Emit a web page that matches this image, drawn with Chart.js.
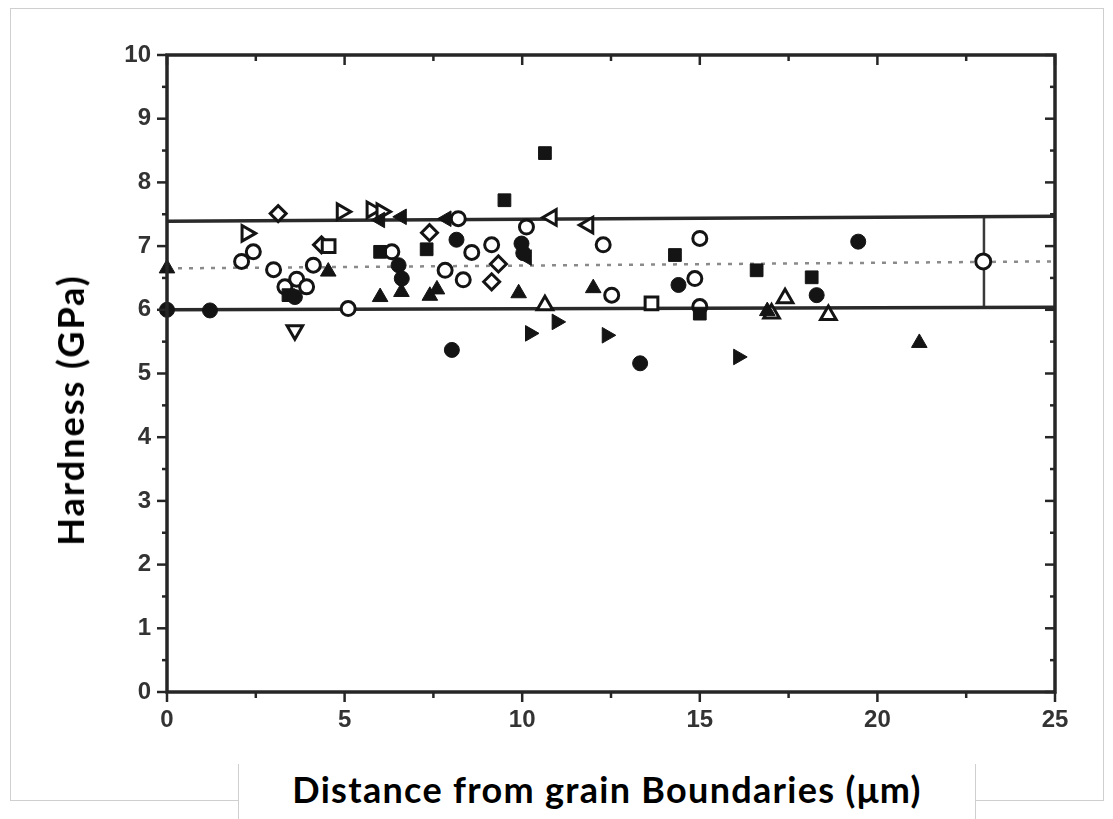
<!DOCTYPE html>
<html>
<head>
<meta charset="utf-8">
<title>Hardness vs distance from grain boundaries</title>
<script src="https://cdn.jsdelivr.net/npm/chart.js@4.4.1/dist/chart.umd.min.js"></script>
<style>
  html, body { margin: 0; padding: 0; background: #fff; }
  #wrap { position: relative; width: 1113px; height: 819px; overflow: hidden; }
  .edge { position: absolute; background: #cfcfcf; }
  #plot { position: absolute; left: 0; top: 0; }
  .axis-title { position: absolute; font-family: Lato, "Open Sans", sans-serif; font-weight: 700; color: #000; white-space: nowrap; font-size: 36px; }
  #xTitle { left: 238px; width: 736px; top: 764px; height: 60px; border-left: 1px solid #cfcfcf; border-right: 1px solid #cfcfcf; background: #fff; text-align: center; line-height: 50px; letter-spacing: 1.3px; }
  #yTitle { left: 70px; top: 410px; letter-spacing: 2px; transform: translate(-50%, -50%) rotate(-90deg); }
</style>
</head>
<body>
<div id="wrap">
  <div class="edge" style="left:10px; top:8px; width:1094px; height:1px"></div>
  <div class="edge" style="left:10px; top:8px; width:1px; height:793px"></div>
  <div class="edge" style="left:1103px; top:8px; width:1px; height:793px"></div>
  <div class="edge" style="left:10px; top:800px; width:1094px; height:1px"></div>
  <canvas id="plot" width="1113" height="819"></canvas>
  <div class="axis-title" id="xTitle">Distance from grain Boundaries (μm)</div>
  <div class="axis-title" id="yTitle">Hardness (GPa)</div>
</div>
<script>
// axis ranges and tick labels
const xTicks = [0, 5, 10, 15, 20, 25];
const yTicks = [0, 1, 2, 3, 4, 5, 6, 7, 8, 9, 10];

// measurements, one array per marker type: [distance µm, hardness GPa]
const filledCircle = [[0, 6.0], [1.21, 5.99], [3.6, 6.2], [6.52, 6.7], [6.61, 6.49], [8.02, 5.37], [8.15, 7.1],
  [9.98, 7.04], [10.03, 6.89], [13.32, 5.16], [14.4, 6.39], [18.29, 6.23], [19.46, 7.07]];
const filledSquare = [[3.42, 6.23], [6.0, 6.91], [7.31, 6.95], [9.5, 7.72], [10.64, 8.46], [14.3, 6.86],
  [15.0, 5.94], [16.6, 6.62], [18.15, 6.51]];
const filledTriangle = [[0, 6.65], [4.54, 6.6], [6.0, 6.2], [6.6, 6.28], [7.4, 6.22], [7.6, 6.32],
  [9.9, 6.26], [12.0, 6.34], [16.9, 5.98], [21.18, 5.48]];
const filledRight = [[10.22, 5.63], [10.97, 5.81], [12.38, 5.6], [16.08, 5.26]];
const filledLeft = [[6.0, 7.41], [6.61, 7.46], [7.87, 7.43], [10.13, 6.82]];
const openCircle = [[2.1, 6.76], [2.43, 6.91], [3.0, 6.63], [3.32, 6.36], [3.65, 6.48], [3.93, 6.36], [4.12, 6.7],
  [5.1, 6.02], [6.33, 6.91], [7.83, 6.62], [8.2, 7.43], [8.34, 6.47], [8.58, 6.9], [9.14, 7.02], [10.12, 7.3],
  [12.28, 7.02], [12.52, 6.23], [14.86, 6.49], [15.0, 7.12], [15.0, 6.05]];
const openSquare = [[4.55, 7.0], [13.64, 6.1]];
const openTriangle = [[10.64, 6.07], [17.4, 6.18], [17.02, 5.94], [18.62, 5.92]];
const openDown = [[3.6, 5.68]];
const openRight = [[2.24, 7.2], [4.92, 7.54], [5.76, 7.57], [6.04, 7.54]];
const openLeft = [[10.83, 7.45], [11.86, 7.33]];
const openDiamond = [[3.13, 7.51], [4.35, 7.02], [7.39, 7.21], [9.14, 6.44], [9.33, 6.72]];

// band: upper limit, mean, lower limit (ends at x = 0 and x = 25)
const upperLimit = [[0, 7.39], [25, 7.47]];
const meanLine = [[0, 6.65], [25, 6.76]];
const lowerLimit = [[0, 6.0], [25, 6.04]];
// overall mean with its spread
const meanPoint = [[22.98, 6.76]];
const meanBar = [[23, 6.04], [23, 7.46]];

const ink = '#141414';
const axisInk = '#262626';
const toXY = arr => arr.map(([x, y]) => ({ x, y }));

function marks(label, data, style, filled, radius, rotation) {
  return {
    type: 'scatter', label, data: toXY(data), order: 0,
    pointStyle: style, pointRotation: rotation || 0,
    pointRadius: radius, pointHoverRadius: radius,
    pointBackgroundColor: filled ? ink : '#fff',
    pointBorderColor: ink, pointBorderWidth: filled ? 1 : 3
  };
}
function guide(label, data, width, color, dash) {
  return {
    type: 'line', label, data: toXY(data), order: 5,
    borderColor: color, borderWidth: width, borderDash: dash || [],
    pointRadius: 0, fill: false, tension: 0
  };
}

// frame all round, outward ticks on bottom/left, inward on top/right
const frameTicks = {
  id: 'frameTicks',
  afterDatasetsDraw(chart) {
    const { ctx, chartArea: a, scales: { x, y } } = chart;
    const seg = (x1, y1, x2, y2) => { ctx.beginPath(); ctx.moveTo(x1, y1); ctx.lineTo(x2, y2); ctx.stroke(); };
    ctx.save();
    ctx.strokeStyle = axisInk;
    ctx.lineWidth = 3.5;
    ctx.strokeRect(a.left, a.top, a.right - a.left, a.bottom - a.top);
    ctx.lineWidth = 2.5;
    for (let v = x.min; v <= x.max; v += 2.5) {
      const px = x.getPixelForValue(v);
      const len = v % 5 === 0 ? 10 : 6;
      seg(px, a.bottom, px, a.bottom + len);
      seg(px, a.top, px, a.top + len);
    }
    for (let v = y.min; v <= y.max; v += 0.5) {
      const py = y.getPixelForValue(v);
      const len = v % 1 === 0 ? 10 : 5;
      seg(a.left - len, py, a.left, py);
      seg(a.right - len, py, a.right, py);
    }
    ctx.restore();
  }
};

new Chart(document.getElementById('plot'), {
  type: 'scatter',
  data: {
    datasets: [
      guide('Upper limit', upperLimit, 3.5, '#2a2a2a'),
      guide('Mean', meanLine, 2.5, '#8a8a8a', [4, 7]),
      guide('Lower limit', lowerLimit, 3.5, '#2a2a2a'),
      guide('Spread', meanBar, 2.5, '#3a3a3a'),
      marks('Mean value', meanPoint, 'circle', false, 7.5),
      marks('●', filledCircle, 'circle', true, 7.5),
      marks('■', filledSquare, 'rect', true, 9),
      marks('▲', filledTriangle, 'triangle', true, 9),
      marks('▶', filledRight, 'triangle', true, 9, 90),
      marks('◀', filledLeft, 'triangle', true, 9, -90),
      marks('○', openCircle, 'circle', false, 7),
      marks('□', openSquare, 'rect', false, 9),
      marks('△', openTriangle, 'triangle', false, 9),
      marks('▽', openDown, 'triangle', false, 9, 180),
      marks('▷', openRight, 'triangle', false, 9, 90),
      marks('◁', openLeft, 'triangle', false, 9, -90),
      marks('◇', openDiamond, 'rectRot', false, 8)
    ]
  },
  options: {
    responsive: false,
    animation: false,
    clip: false,
    layout: { padding: { left: 0, right: 58, top: 55, bottom: 0 } },
    plugins: { legend: { display: false }, tooltip: { enabled: false } },
    scales: {
      x: {
        type: 'linear', min: 0, max: 25,
        afterFit: s => { s.height = 127; },
        afterBuildTicks: s => { s.ticks = xTicks.map(value => ({ value })); },
        grid: { display: false, drawTicks: false },
        border: { display: false },
        ticks: { color: '#333', padding: 14, font: { family: 'Liberation Sans', weight: 'bold', size: 24 } }
      },
      y: {
        type: 'linear', min: 0, max: 10,
        afterFit: s => { s.width = 167; },
        afterBuildTicks: s => { s.ticks = yTicks.map(value => ({ value })); },
        grid: { display: false, drawTicks: false },
        border: { display: false },
        ticks: { color: '#333', padding: 16, font: { family: 'Liberation Sans', weight: 'bold', size: 24 } }
      }
    }
  },
  plugins: [frameTicks]
});
</script>
</body>
</html>
